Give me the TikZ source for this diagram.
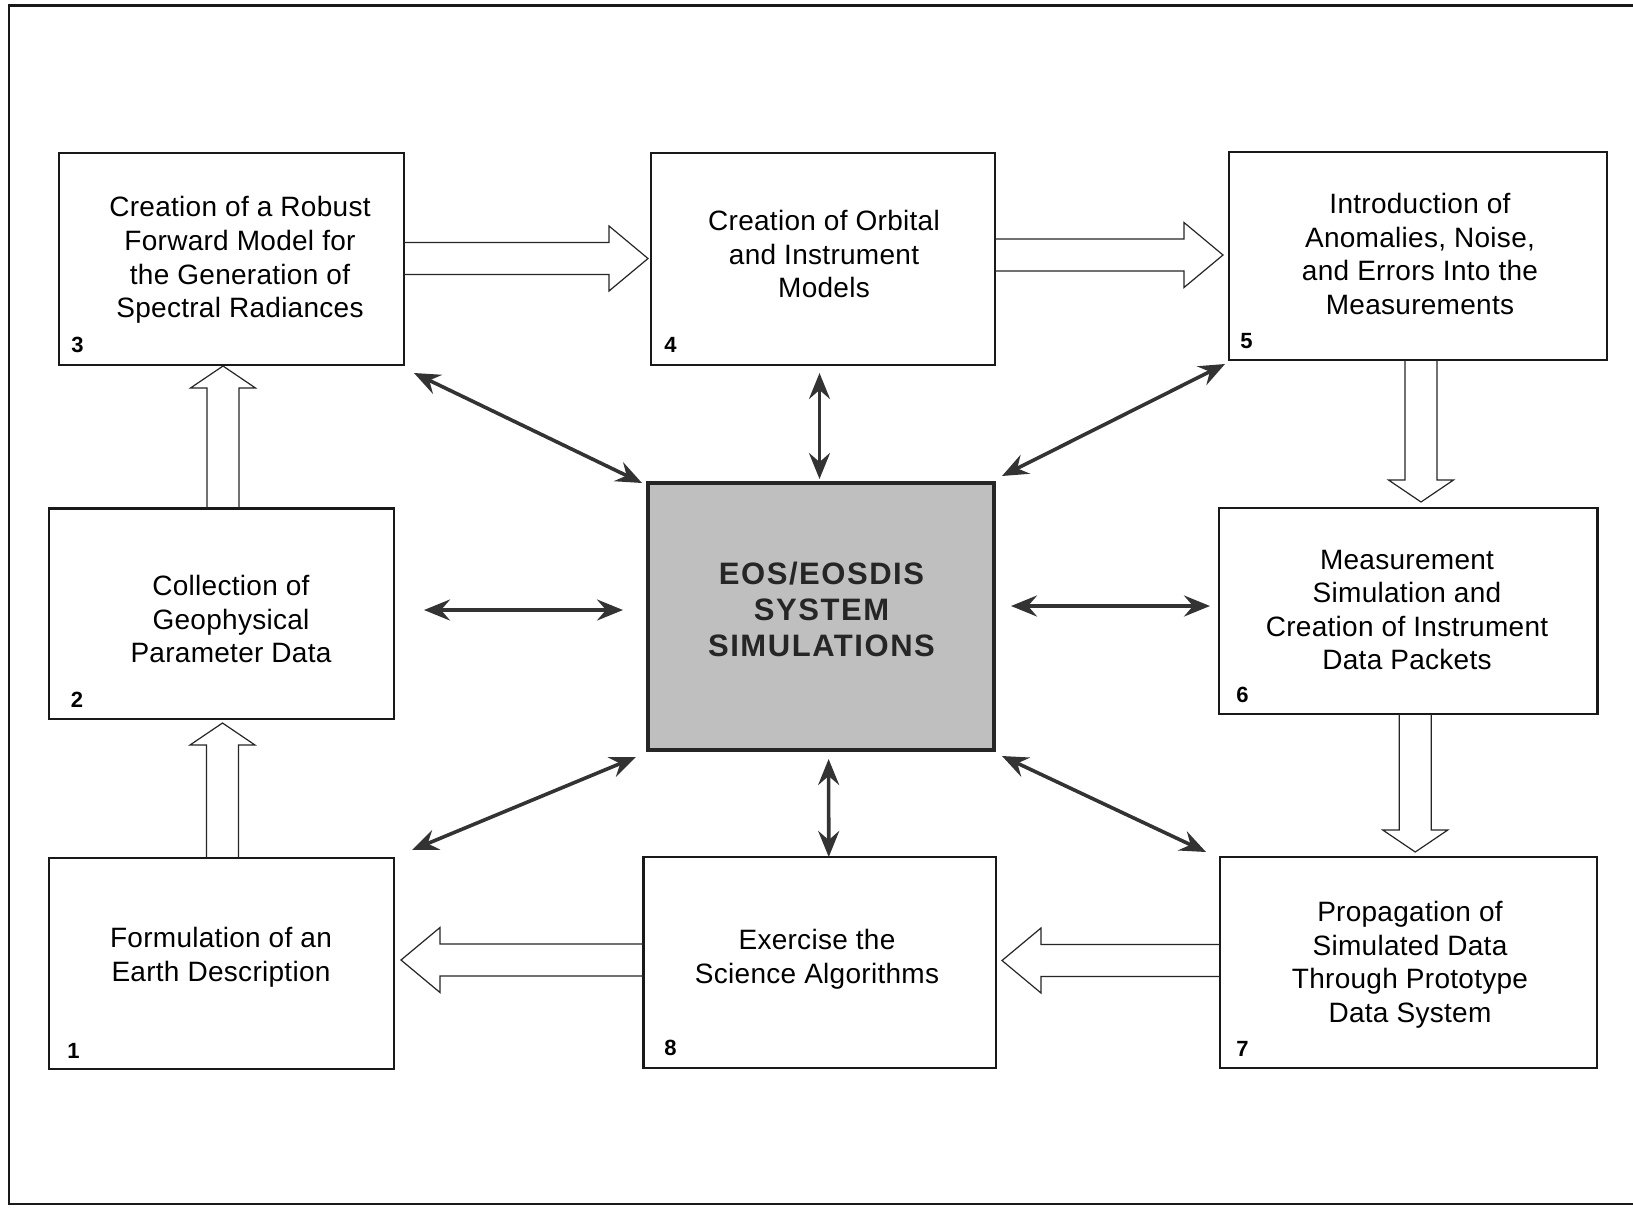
\documentclass[tikz,border=0pt]{standalone}
\usepackage{fontspec}
\setmainfont{Liberation Sans}
\usetikzlibrary{arrows.meta,calc,fit}
\newcommand\arSW{8pt}
\newcommand\arHW{16.25pt}
\newcommand\arHD{19.5pt}
\newcommand\arVD{11pt}
\newcommand\blockR[2]{\draw[hollow] let \p1=(#1), \p2=(#2) in (\x1,\y1+\arSW) -- (\x2-\arHD,\y1+\arSW) -- (\x2-\arHD,\y1+\arHW) -- (\x2,\y1) -- (\x2-\arHD,\y1-\arHW) -- (\x2-\arHD,\y1-\arSW) -- (\x1,\y1-\arSW);}
\newcommand\blockL[2]{\draw[hollow] let \p1=(#1), \p2=(#2) in (\x1,\y1+\arSW) -- (\x2+\arHD,\y1+\arSW) -- (\x2+\arHD,\y1+\arHW) -- (\x2,\y1) -- (\x2+\arHD,\y1-\arHW) -- (\x2+\arHD,\y1-\arSW) -- (\x1,\y1-\arSW);}
\newcommand\blockU[2]{\draw[hollow] let \p1=(#1), \p2=(#2) in (\x1+\arSW,\y1) -- (\x1+\arSW,\y2-\arVD) -- (\x1+\arHW,\y2-\arVD) -- (\x1,\y2) -- (\x1-\arHW,\y2-\arVD) -- (\x1-\arSW,\y2-\arVD) -- (\x1-\arSW,\y1);}
\newcommand\blockD[2]{\draw[hollow] let \p1=(#1), \p2=(#2) in (\x1+\arSW,\y1) -- (\x1+\arSW,\y2+\arVD) -- (\x1+\arHW,\y2+\arVD) -- (\x1,\y2) -- (\x1-\arHW,\y2+\arVD) -- (\x1-\arSW,\y2+\arVD) -- (\x1-\arSW,\y1);}
\begin{document}
\begin{tikzpicture}[x=0.5pt,y=-0.5pt,
  box/.style={draw=black!90, line width=1.35pt, inner sep=0pt, outer sep=0pt},
  cbox/.style={draw=black!85, line width=2pt, fill=black!25, inner sep=0pt, outer sep=0pt},
  txt/.style={align=center, font=\addfontfeature{LetterSpace=1}\fontsize{14}{16.8}\selectfont, inner sep=0pt, text=black},
  ctxt/.style={align=center, font=\bfseries\addfontfeature{LetterSpace=5}\fontsize{15.5}{18}\selectfont, inner sep=0pt, text=black!85},
  num/.style={font=\bfseries\fontsize{11}{12}\selectfont, inner sep=0pt, anchor=base west, text=black},
  hollow/.style={draw=black!85, line width=0.6pt, line join=miter},
  dbl/.style={draw=black!80, line width=1.8pt, {Stealth[length=13pt,width=10.5pt,inset=4.5pt]}-{Stealth[length=13pt,width=10.5pt,inset=4.5pt]}},
  frame/.style={draw=black!90, line width=1.2pt}]
\useasboundingbox (0,0) rectangle (1633,1211);
\fill[white] (0,0) rectangle (1633,1211);
\draw[frame] (1633,5.5) -- (9,5.5) -- (9,1204) -- (1633,1204);

% boxes
\node[box, fit={(59,153) (404,365)}] (b3) {};
\node[box, fit={(651,153) (995,365)}] (b4) {};
\node[box, fit={(1229,152) (1607,360)}] (b5) {};
\node[box, fit={(49,508.5) (394,719)}] (b2) {};
\node[cbox, fit={(648,483) (994,750)}] (bc) {};
\node[box, fit={(1219,508) (1597.5,714)}] (b6) {};
\node[box, fit={(49,858) (394,1069)}] (b1) {};
\node[box, fit={(643.5,857) (996,1068)}] (b8) {};
\node[box, fit={(1220,857) (1597,1068)}] (b7) {};

% texts
\node[txt] (t3) at (240,260) {Creation of a Robust\\Forward Model for\\the Generation of\\Spectral Radiances};
\node[txt] (t4) at (824,254) {Creation of Orbital\\and Instrument\\Models};
\node[txt] (t5) at (1420,254) {Introduction of\\Anomalies, Noise,\\and Errors Into the\\Measurements};
\node[txt] (t2) at (231,619) {Collection of\\Geophysical\\Parameter Data};
\node[ctxt] (tc) at (821.5,609) {EOS/EOSDIS\\SYSTEM\\SIMULATIONS};
\node[txt] (t6) at (1407,610) {Measurement\\Simulation and\\Creation of Instrument\\Data Packets};
\node[txt] (t1) at (221,957.5) {Formulation of an\\Earth Description};
\node[txt] (t8) at (817,959) {Exercise the\\Science Algorithms};
\node[txt] (t7) at (1410,964.7) {Propagation of\\Simulated Data\\Through Prototype\\Data System};

% numbers
\node[num] (n3) at (71,352) {3};
\node[num] (n4) at (664,352) {4};
\node[num] (n5) at (1240,348.6) {5};
\node[num] (n6) at (1236,702) {6};
\node[num] (n2) at (70.5,707) {2};
\node[num] (n1) at (67,1058) {1};
\node[num] (n8) at (664,1055) {8};
\node[num] (n7) at (1236,1056.7) {7};

% hollow block arrows
\blockR{$(b3.east)+(0,-0.5)$}{$(b4.west)+(-3,0)$}
\blockR{$(b4.east)+(0,-4)$}{$(b5.west)+(-6,0)$}
\blockL{$(b8.west)+(0,-2.5)$}{$(b1.east)+(7,0)$}
\blockL{$(b7.west)+(0,-2)$}{$(b8.east)+(6,0)$}
\blockU{$(b2.north)+(1.5,0)$}{$(b3.south)+(0,1)$}
\blockU{$(b1.north)+(1,0)$}{$(b2.south)+(0,4)$}
\blockD{$(b5.south)+(3,0)$}{$(b6.north)+(0,-6)$}
\blockD{$(b6.south)+(7,0)$}{$(b7.north)+(0,-5)$}

% double arrows to the centre
\draw[dbl] ($(b3.south east)+(10,8)$) -- ($(bc.north west)+(-6,0)$);
\draw[dbl] ($(b4.south)+(-3.5,8)$) -- ($(bc.north)+(-1.5,-4)$);
\draw[dbl] ($(bc.north east)+(8,-7)$) -- ($(b5.south west)+(-4,4)$);
\draw[dbl] ($(b2.east)+(30,-3.75)$) -- ($(bc.west)+(-25,-6.5)$);
\draw[dbl] ($(bc.east)+(17,-10.5)$) -- ($(b6.west)+(-9,-5)$);
\draw[dbl] ($(bc.south west)+(-12,7)$) -- ($(b1.north east)+(18,-8)$);
\draw[dbl] ($(bc.south)+(7.6,9)$) -- ($(b8.north)+(9,0)$);
\draw[dbl] ($(bc.south east)+(8,6)$) -- ($(b7.north west)+(-14,-5)$);
\end{tikzpicture}
\end{document}
